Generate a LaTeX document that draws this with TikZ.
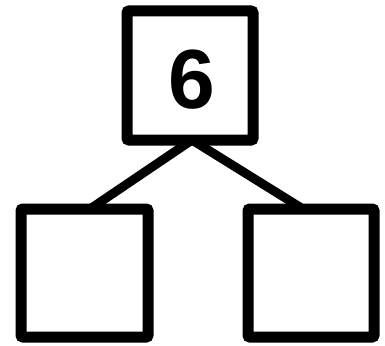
\documentclass[tikz,border=0pt]{standalone}
\usepackage{fontspec}
\setmainfont{Liberation Sans}
\begin{document}
\begin{tikzpicture}[x=1pt,y=-1pt,
  box/.style={draw=black, line width=11pt, rounded corners=2pt, inner sep=0pt, outer sep=0pt, fill=white},
  link/.style={draw=black, line width=9pt}]
\useasboundingbox (0,0) rectangle (385,345);
\node[box, minimum width=126pt, minimum height=129pt] (top) at (190,75.5) {};
\node[box, minimum width=127pt, minimum height=128pt] (lb) at (84.5,273) {};
\node[box, minimum width=126pt, minimum height=128pt] (rb) at (311,273) {};
\begin{scope}[on background layer/.try]
\end{scope}
\draw[link] ([xshift=2pt]top.south) -- ([xshift=5.5pt]lb.north);
\draw[link] ([xshift=2pt]top.south) -- ([xshift=-8pt]rb.north);
\node[font=\fontsize{84}{84}\selectfont\bfseries, inner sep=0pt] (six) at (192,80) {6};
\end{tikzpicture}
\end{document}
